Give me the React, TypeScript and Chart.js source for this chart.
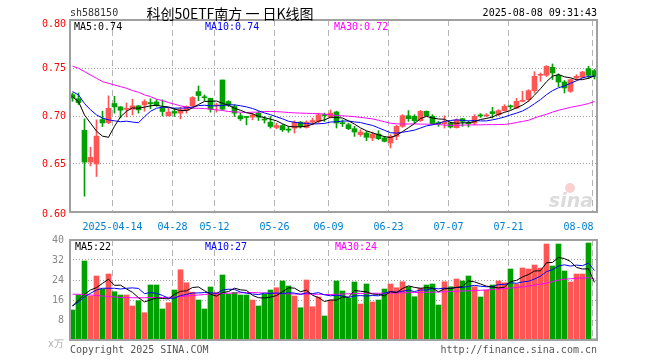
import React, { useEffect, useRef } from 'react';
import { Chart, registerables } from 'chart.js';

Chart.register(...registerables);

// ---------------- data ----------------
const dates = [
  '04-02','04-03','04-07','04-08','04-09','04-10','04-11','04-14','04-15','04-16','04-17','04-18','04-21','04-22','04-23','04-24','04-25','04-28','04-29','04-30',
  '05-06','05-07','05-08','05-09','05-12','05-13','05-14','05-15','05-16','05-19','05-20','05-21','05-22','05-23','05-26','05-27','05-28','05-29','05-30',
  '06-03','06-04','06-05','06-06','06-09','06-10','06-11','06-12','06-13','06-16','06-17','06-18','06-19','06-20','06-23','06-24','06-25','06-26','06-27','06-30',
  '07-01','07-02','07-03','07-04','07-07','07-08','07-09','07-10','07-11','07-14','07-15','07-16','07-17','07-18','07-21','07-22','07-23','07-24','07-25','07-28','07-29','07-30','07-31',
  '08-01','08-04','08-05','08-06','08-07','08-08',
];

const opens = [
  0.7222,0.718,0.685,0.652,0.650,0.6963,0.693,0.713,0.7095,0.707,
  0.7071,0.7106,0.7116,0.714,0.7147,0.708,0.7002,0.7047,0.703,0.7057,
  0.7106,0.7254,0.7195,0.7185,0.7106,0.7375,0.715,0.7099,0.7002,0.6992,
  0.6988,0.703,0.6962,0.6936,0.688,0.690,0.6856,0.6874,0.6936,0.688,
  0.6935,0.6943,0.7012,0.6988,0.7042,0.6925,0.691,0.6868,0.6806,0.6823,
  0.6771,0.6812,0.6771,0.6719,0.6788,0.6892,0.7003,0.6997,0.6951,0.7049,
  0.6997,0.6925,0.692,0.6927,0.6878,0.6972,0.6925,0.6927,0.7008,0.7001,
  0.7045,0.7014,0.7056,0.7102,0.7083,0.7153,0.717,0.7264,0.7424,0.7424,
  0.7507,0.7424,0.7354,0.7257,0.7396,0.7403,0.7493,0.7472,
];
const highs = [
  0.724,0.724,0.697,0.6675,0.696,0.705,0.721,0.7205,0.7098,0.7136,
  0.7175,0.711,0.717,0.718,0.717,0.7168,0.708,0.708,0.709,0.7106,
  0.7202,0.7313,0.722,0.7185,0.7133,0.7375,0.716,0.7116,0.703,0.6995,
  0.703,0.7047,0.6995,0.6995,0.6926,0.691,0.689,0.695,0.6943,0.695,
  0.6978,0.703,0.703,0.7064,0.705,0.696,0.6927,0.6892,0.6858,0.684,
  0.6833,0.6847,0.6788,0.6806,0.6903,0.7014,0.7056,0.7014,0.7059,0.7052,
  0.7014,0.6944,0.7002,0.694,0.697,0.6975,0.695,0.7014,0.7025,0.7025,
  0.709,0.7066,0.7118,0.7115,0.7185,0.7257,0.7275,0.7462,0.7448,0.7525,
  0.7542,0.744,0.737,0.7385,0.743,0.7465,0.7517,0.7486,
];
const lows = [
  0.7153,0.712,0.6165,0.648,0.637,0.689,0.692,0.703,0.698,0.699,
  0.701,0.703,0.705,0.7075,0.710,0.700,0.700,0.6995,0.697,0.703,
  0.7099,0.716,0.716,0.704,0.704,0.7064,0.7099,0.6995,0.6953,0.6908,
  0.696,0.6953,0.6926,0.6874,0.6867,0.6839,0.683,0.6822,0.6874,0.6874,
  0.6908,0.6926,0.6943,0.6978,0.6875,0.689,0.6858,0.6788,0.6788,0.6743,
  0.6743,0.6753,0.673,0.6667,0.6753,0.6882,0.6944,0.6927,0.6944,0.6997,
  0.691,0.6892,0.6874,0.6875,0.6874,0.6892,0.6885,0.6908,0.6985,0.699,
  0.6979,0.7003,0.705,0.707,0.7076,0.7146,0.7153,0.7237,0.7361,0.741,
  0.738,0.7306,0.724,0.7246,0.7378,0.7396,0.739,0.7385,
];
const closes = [
  0.7188,0.714,0.652,0.657,0.679,0.6928,0.708,0.7095,0.706,0.708,
  0.7106,0.7064,0.715,0.7128,0.711,0.7047,0.704,0.703,0.7064,0.710,
  0.7192,0.7213,0.719,0.7071,0.7113,0.7071,0.7116,0.703,0.697,0.6985,
  0.7012,0.6988,0.6958,0.6891,0.690,0.6856,0.6853,0.6936,0.6891,0.6936,
  0.6953,0.7012,0.7005,0.703,0.6927,0.692,0.6868,0.6833,0.6833,0.6778,
  0.6812,0.6764,0.6736,0.6788,0.6892,0.7003,0.6972,0.6951,0.7049,0.7003,
  0.692,0.692,0.6936,0.6885,0.696,0.6944,0.692,0.6997,0.7001,0.7008,
  0.7025,0.7056,0.710,0.7096,0.7153,0.716,0.7264,0.7413,0.743,0.7517,
  0.7448,0.7354,0.7292,0.7378,0.7413,0.7458,0.7424,0.7413,
];
const ma5 = [
  0.7200,0.7150,0.7010,0.6926,0.6842,0.6790,0.6778,0.6893,0.6991,0.7049,
  0.7084,0.7081,0.7092,0.7106,0.7112,0.7100,0.7095,0.7071,0.7058,0.7056,
  0.7085,0.7120,0.7152,0.7153,0.7156,0.7132,0.7112,0.7080,0.7060,0.7034,
  0.7023,0.6997,0.6983,0.6967,0.6950,0.6919,0.6892,0.6887,0.6887,0.6894,
  0.6914,0.6946,0.6959,0.6987,0.6985,0.6979,0.6950,0.6916,0.6876,0.6846,
  0.6825,0.6804,0.6785,0.6776,0.6798,0.6837,0.6878,0.6921,0.6973,0.6996,
  0.6979,0.6969,0.6966,0.6933,0.6924,0.6929,0.6929,0.6941,0.6964,0.6974,
  0.6990,0.7017,0.7038,0.7057,0.7086,0.7113,0.7155,0.7217,0.7284,0.7357,
  0.7414,0.7432,0.7408,0.7398,0.7377,0.7379,0.7393,0.7417,
];
const ma10 = [
  0.7254,0.7220,0.7130,0.7064,0.7012,0.6978,0.6960,0.6950,0.6940,0.6946,
  0.6937,0.6930,0.6993,0.7049,0.7081,0.7092,0.7088,0.7082,0.7082,0.7084,
  0.7093,0.7108,0.7112,0.7106,0.7106,0.7109,0.7116,0.7116,0.7107,0.7095,
  0.7078,0.7055,0.7032,0.7014,0.6992,0.6971,0.6945,0.6935,0.6927,0.6922,
  0.6917,0.6919,0.6923,0.6937,0.6940,0.6947,0.6948,0.6938,0.6932,0.6916,
  0.6902,0.6877,0.6851,0.6826,0.6822,0.6831,0.6841,0.6853,0.6875,0.6897,
  0.6908,0.6924,0.6944,0.6953,0.6960,0.6954,0.6949,0.6954,0.6949,0.6949,
  0.6960,0.6973,0.6990,0.7011,0.7030,0.7052,0.7086,0.7128,0.7171,0.7222,
  0.7264,0.7294,0.7313,0.7341,0.7367,0.7397,0.7413,0.7413,
];
const ma30 = [
  0.7520,0.7497,0.7462,0.7427,0.7393,0.7358,0.7340,0.7323,0.7306,0.7289,
  0.7265,0.7247,0.7220,0.7202,0.7175,0.7161,0.7140,0.7123,0.7106,0.7092,
  0.7081,0.7080,0.7078,0.7071,0.7064,0.7057,0.7047,0.7043,0.7040,0.7036,
  0.7040,0.7040,0.7047,0.7047,0.7045,0.7042,0.7036,0.7033,0.7030,0.7028,
  0.7026,0.7024,0.7020,0.7012,0.7005,0.7002,0.6998,0.6993,0.6986,0.6978,
  0.6970,0.6955,0.6940,0.6925,0.6918,0.6917,0.6917,0.6917,0.6916,0.6915,
  0.6914,0.6912,0.6905,0.6903,0.6903,0.6905,0.6906,0.6908,0.6908,0.6910,
  0.6910,0.6911,0.6912,0.6920,0.6932,0.6944,0.6955,0.6980,0.7000,0.7018,
  0.7040,0.7060,0.7075,0.7090,0.7102,0.7115,0.7130,0.7152,
];
const volumes = [
  12,18,31.6,17.6,25.6,20.4,26.4,19.3,18,18,
  13.6,15.7,10.9,22,22,12.4,14.9,20,28.1,22.9,
  19.1,16,12.4,21.2,19.1,26,18.3,19,18,18,
  16,13.6,18.3,20,20.9,23.6,21.6,17.6,12.9,24,
  13.3,17.2,9.6,16,23.6,19.6,16.7,23.2,14.4,22.4,
  15.2,16,20.4,22.4,20.9,23.3,21.3,17.3,20.7,22,
  22.4,14,23.3,21.3,24.4,23.6,25.6,21.3,17.2,20,
  22,23.6,22.9,28.4,22.4,28.8,28.4,30,28.8,38.4,
  29.6,38.4,27.6,23.2,26.4,26.4,38.8,0.4,
];
const volMa5 = [
  13.6,16,18.3,20,20.96,22.64,24.32,21.86,21.94,20.42,
  19.06,16.92,15.24,16.04,16.84,16.6,16.44,18.26,19.48,19.66,
  21,21.22,19.7,18.32,17.56,18.94,19.4,20.72,20.08,19.86,
  17.86,16.92,16.78,17.18,17.76,19.28,20.88,20.74,19.32,19.94,
  17.88,17,15.4,16.02,15.94,17.2,17.1,19.82,19.5,19.26,
  18.38,18.24,17.68,19.28,18.98,20.6,21.66,21.04,20.7,20.92,
  20.74,19.28,20.48,20.6,21.08,21.32,23.64,23.24,22.42,21.54,
  21.22,20.82,21.14,23.38,23.86,25.22,26.18,27.6,27.68,30.88,
  31.04,33.04,32.56,31.44,29.04,28.4,28.48,23.04,
];
const volMa10 = [
  13.6,15.3,17.3,18.7,20,20.7,20.7,20.7,20.4,20.69,
  20.85,20.62,18.55,18.99,18.63,17.83,16.68,16.75,17.76,18.25,
  18.8,18.83,18.98,18.9,18.61,19.97,20.31,20.21,19.2,18.71,
  18.4,18.16,18.75,18.63,18.81,18.57,18.9,18.76,18.25,18.85,
  18.58,18.94,18.07,17.67,17.94,17.54,17.05,17.61,17.76,17.6,
  17.79,17.67,18.75,19.39,19.12,19.49,19.95,19.36,19.99,19.95,
  20.67,20.47,20.76,20.65,21,21.03,21.46,21.86,21.51,21.31,
  21.27,22.23,22.19,22.9,22.7,23.22,23.5,24.37,25.53,27.37,
  28.13,29.61,30.08,29.56,29.96,29.72,30.76,27.8,
];
const volMa30 = [
  18.3,18.3,18.2,18,17.8,17.6,17.4,17.2,17,17,
  16.9,16.9,16.9,17,17,17,17.1,17.2,17.4,17.6,
  17.8,18,18.2,18.4,18.5,18.6,18.7,18.8,18.9,19,
  19,18.9,18.8,18.7,18.6,18.5,18.5,18.4,18.4,18.4,
  18.3,18.3,18.2,18.2,18.3,18.4,18.5,18.6,18.6,18.7,
  18.7,18.7,18.7,18.8,18.8,18.9,18.9,19,19,19.1,
  19.1,19.2,19.3,19.4,19.5,19.6,19.7,19.8,19.9,20,
  20.2,20.4,20.6,20.8,21,21.3,21.6,22,22.3,22.8,
  23.4,24,24.3,24.5,24.7,24.8,24.9,24.4,
];

const tickDates = ['04-14', '04-28', '05-12', '05-26', '06-09', '06-23', '07-07', '07-21', '08-08'];
const tickLabels = ['2025-04-14', '04-28', '05-12', '05-26', '06-09', '06-23', '07-07', '07-21', '08-08'];
const priceTicks = [0.8, 0.75, 0.7, 0.65, 0.6];
const priceGrid = [0.75, 0.7, 0.65];
const volTicks = [40, 32, 24, 16, 8];
const volGrid = [32, 24, 16, 8];

const headerCode = 'sh588150';
const headerTitle = '科创50ETF南方 一 日K线图';
const headerTime = '2025-08-08 09:31:43';
const priceLegend = ['MA5:0.74', 'MA10:0.74', 'MA30:0.72'];
const volLegend = ['MA5:22', 'MA10:27', 'MA30:24'];

// ---------------- styling ----------------
const RED = '#ff5555';
const GREEN = '#00a000';
const MONO = '"DejaVu Sans Mono", "Liberation Mono", monospace';
const X_MIN = -0.4167;
const X_MAX = 87.4167;
const GRID_SHIFT = -0.333;

const decorPlugin = {
  id: 'sinaDecor',
  afterDraw(chart: any, _args: any, opts: any) {
    const { ctx, chartArea: a } = chart;
    ctx.save();
    // frame
    ctx.strokeStyle = '#a0a0a0';
    ctx.lineWidth = 2;
    ctx.strokeRect(a.left, a.top, a.right - a.left, a.bottom - a.top);
    // y labels
    const ys = chart.scales.y;
    ctx.font = `10px ${MONO}`;
    ctx.fillStyle = opts.yColor;
    ctx.textAlign = 'right';
    ctx.textBaseline = 'middle';
    opts.yTicks.forEach((v: number) => {
      let py = ys.getPixelForValue(v);
      if (opts.yShift) py += opts.yShift(v);
      ctx.fillText(opts.yFmt(v), opts.yX, py);
    });
    // x labels
    if (opts.xLabels) {
      const xs = chart.scales.x;
      ctx.fillStyle = '#0080d0';
      ctx.textBaseline = 'middle';
      opts.xLabels.forEach((lab: string, k: number) => {
        const px = xs.getPixelForValue(dates.indexOf(tickDates[k]) + GRID_SHIFT);
        const last = k === opts.xLabels.length - 1;
        ctx.textAlign = last ? 'right' : 'center';
        ctx.fillText(lab, last ? px + 1 : px, opts.xLabelY);
      });
    }
    if (opts.watermark) {
      ctx.font = `italic bold 19px "DejaVu Sans", sans-serif`;
      ctx.fillStyle = 'rgba(190,190,190,0.55)';
      ctx.textAlign = 'right';
      ctx.textBaseline = 'alphabetic';
      ctx.fillText('sina', a.right - 4, a.bottom - 5);
      ctx.fillStyle = 'rgba(240,120,120,0.35)';
      ctx.beginPath();
      ctx.arc(a.right - 27, a.bottom - 24, 5, 0, Math.PI * 2);
      ctx.fill();
    }
    ctx.restore();
  },
};

function xScale() {
  return {
    type: 'linear',
    min: X_MIN,
    max: X_MAX,
    offset: false,
    ticks: { display: false },
    grid: { color: '#b4b4b4', drawTicks: false, lineWidth: 1, offset: false },
    border: { display: false, dash: [6, 4] },
    afterBuildTicks: (s: any) => {
      s.ticks = tickDates.map((d) => ({ value: dates.indexOf(d) + GRID_SHIFT }));
    },
    afterFit: (s: any) => {
      s.height = 0;
    },
  };
}

function lineDs(label: string, values: number[], color: string) {
  return {
    type: 'line',
    label,
    data: values.map((y, x) => ({ x, y })),
    borderColor: color,
    borderWidth: 1,
    pointRadius: 0,
    tension: 0,
    order: 0,
  };
}

const Txt = ({ x, y, text, color = '#000', align = 'left', size = 10, family = MONO }: any) => {
  const style: React.CSSProperties = {
    position: 'absolute',
    top: y - size * 0.6,
    fontSize: size,
    lineHeight: `${size * 1.2}px`,
    color,
    fontFamily: family,
    whiteSpace: 'pre',
  };
  if (align === 'left') style.left = x;
  else if (align === 'right') style.right = 660 - x;
  else {
    style.left = x;
    style.transform = 'translateX(-50%)';
  }
  return <div style={style}>{text}</div>;
};

export default function App() {
  const priceRef = useRef<HTMLCanvasElement>(null);
  const volRef = useRef<HTMLCanvasElement>(null);

  useEffect(() => {
    const colors = closes.map((c, i) => (c >= opens[i] ? RED : GREEN));
    const price = new Chart(priceRef.current as HTMLCanvasElement, {
      type: 'bar',
      data: {
        datasets: [
          lineDs('MA5', ma5, '#000000'),
          lineDs('MA10', ma10, '#0000ff'),
          lineDs('MA30', ma30, '#ff00ff'),
          {
            type: 'bar',
            label: 'body',
            data: opens.map((o, x) => ({ x, y: [o, closes[x]] })),
            backgroundColor: colors,
            barThickness: 5,
            minBarLength: 1,
            grouped: false,
            order: 1,
          },
          {
            type: 'bar',
            label: 'wick',
            data: lows.map((l, x) => ({ x, y: [l, highs[x]] })),
            backgroundColor: colors,
            barThickness: 1,
            grouped: false,
            order: 2,
          },
        ] as any,
      },
      options: {
        responsive: false,
        animation: false,
        devicePixelRatio: 1,
        layout: { padding: { left: 70, right: 63, top: 20, bottom: 20 } },
        plugins: {
          legend: { display: false },
          tooltip: { enabled: false },
          sinaDecor: {
            yTicks: priceTicks,
            yFmt: (v: number) => v.toFixed(2),
            yColor: '#ff0000',
            yX: 66,
            yShift: (v: number) => (v === 0.8 ? 4 : v === 0.6 ? 2 : 0),
            xLabels: tickLabels,
            xLabelY: 227,
            watermark: true,
          },
        } as any,
        scales: {
          x: xScale() as any,
          y: {
            type: 'linear',
            min: 0.6,
            max: 0.8,
            ticks: { display: false },
            grid: { color: '#a0a0a0', drawTicks: false, lineWidth: 1 },
            border: { display: false, dash: [1, 2] },
            afterBuildTicks: (s: any) => {
              s.ticks = priceGrid.map((v) => ({ value: v }));
            },
            afterFit: (s: any) => {
              s.width = 0;
            },
          } as any,
        },
      },
      plugins: [decorPlugin],
    });

    const vol = new Chart(volRef.current as HTMLCanvasElement, {
      type: 'bar',
      data: {
        datasets: [
          lineDs('MA5', volMa5, '#000000'),
          lineDs('MA10', volMa10, '#0000ff'),
          lineDs('MA30', volMa30, '#ff00ff'),
          {
            type: 'bar',
            label: 'volume',
            data: volumes.map((v, x) => ({ x, y: v })),
            backgroundColor: colors,
            barThickness: 5,
            grouped: false,
            order: 1,
          },
        ] as any,
      },
      options: {
        responsive: false,
        animation: false,
        devicePixelRatio: 1,
        layout: { padding: { left: 70, right: 63, top: 8, bottom: 20 } },
        plugins: {
          legend: { display: false },
          tooltip: { enabled: false },
          sinaDecor: {
            yTicks: volTicks,
            yFmt: (v: number) => String(v),
            yColor: '#888888',
            yX: 64,
          },
        } as any,
        scales: {
          x: xScale() as any,
          y: {
            type: 'linear',
            min: 0,
            max: 40,
            ticks: { display: false },
            grid: { color: '#a0a0a0', drawTicks: false, lineWidth: 1 },
            border: { display: false, dash: [1, 2] },
            afterBuildTicks: (s: any) => {
              s.ticks = volGrid.map((v) => ({ value: v }));
            },
            afterFit: (s: any) => {
              s.width = 0;
            },
          } as any,
        },
      },
      plugins: [decorPlugin],
    });

    return () => {
      price.destroy();
      vol.destroy();
    };
  }, []);

  return (
    <div style={{ position: 'fixed', left: 0, top: 0, width: 660, height: 360, background: '#fff', overflow: 'hidden' }}>
      <canvas ref={priceRef} width={660} height={232} style={{ position: 'absolute', left: 0, top: 0, width: 660, height: 232 }} />
      <canvas ref={volRef} width={660} height={128} style={{ position: 'absolute', left: 0, top: 232, width: 660, height: 128 }} />
      <Txt x={70} y={13} text={headerCode} color="#333" />
      <Txt x={230} y={13} text={headerTitle} align="center" size={14} family={'"Noto Sans CJK SC", sans-serif'} />
      <Txt x={597} y={13} text={headerTime} align="right" />
      <Txt x={74} y={27} text={priceLegend[0]} color="#000" />
      <Txt x={205} y={27} text={priceLegend[1]} color="#0000ff" />
      <Txt x={334} y={27} text={priceLegend[2]} color="#ff00ff" />
      <Txt x={75} y={247} text={volLegend[0]} color="#000" />
      <Txt x={205} y={247} text={volLegend[1]} color="#0000ff" />
      <Txt x={335} y={247} text={volLegend[2]} color="#ff00ff" />
      <Txt x={64} y={344} text="x万" align="right" color="#aaa" />
      <Txt x={70} y={350} text="Copyright 2025 SINA.COM" color="#555" />
      <Txt x={597} y={350} text="http://finance.sina.com.cn" align="right" color="#555" />
    </div>
  );
}
